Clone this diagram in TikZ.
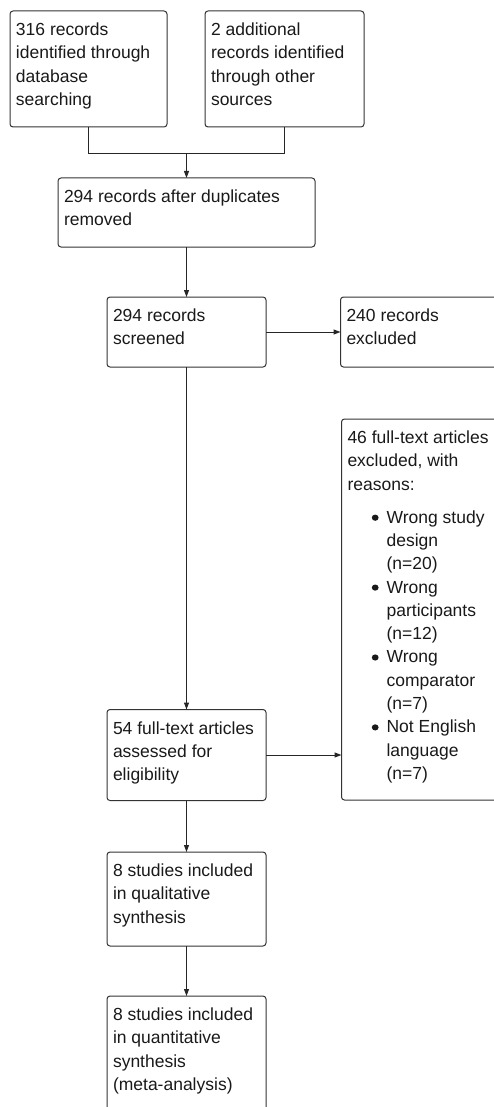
\documentclass[tikz,border=0pt]{standalone}
\usepackage{fontspec}
\setmainfont{Liberation Sans}
\usetikzlibrary{arrows.meta}
\newcommand\boxtext[3]{\parbox[t][#2][t]{#1}{\raggedright\rule{0pt}{24.5pt}#3}}
\newcommand\bul{\hspace*{24.3pt}\tikz[baseline=0pt]\fill[black!90] (3.4pt,5.4pt) ellipse[x radius=3.4pt, y radius=3.1pt];\hspace*{8pt}}
\newcommand\ind{\hspace*{39.1pt}}
\tikzset{
  flowbox/.style={draw=black!80, line width=1pt, rounded corners=3pt, inner xsep=6pt, inner ysep=0pt,
    outer sep=0pt, anchor=north west, font=\fontsize{17.5}{23.3}\selectfont, text=black!90},
  arr/.style={draw=black!85, line width=1pt, -{Triangle[length=7pt,width=5pt]}},
  ln/.style={draw=black!85, line width=1pt}
}
\begin{document}
\begin{tikzpicture}[x=1pt,y=-1pt]
\useasboundingbox (0,0) rectangle (494,1107);
\node[flowbox] (b1) at (10,11) {\boxtext{145pt}{116pt}{316 records\\identified through\\database\\searching}};
\node[flowbox] (b2) at (205,11) {\boxtext{147pt}{116pt}{2 additional\\records identified\\through other\\sources}};
\node[flowbox] (b3) at (58,178) {\boxtext{245pt}{69pt}{294 records after duplicates\\removed}};
\node[flowbox] (b4) at (107,297) {\boxtext{147pt}{70pt}{294 records\\screened}};
\node[flowbox] (b5) at (340.5,297) {\boxtext{158pt}{70pt}{240 records\\excluded}};
\node[flowbox] (b6) at (341.5,419) {\boxtext{160pt}{381pt}{46 full-text articles\\excluded, with\\reasons:\\[9.7pt]
\bul Wrong study\\\ind design\\\ind (n=20)\\
\bul Wrong\\\ind participants\\\ind (n=12)\\
\bul Wrong\\\ind comparator\\\ind (n=7)\\
\bul Not English\\\ind language\\\ind (n=7)}};
\node[flowbox] (b7) at (107,709.5) {\boxtext{147pt}{91pt}{54 full-text articles\\assessed for\\eligibility}};
\node[flowbox] (b8) at (107,852) {\boxtext{147pt}{94pt}{8 studies included\\in qualitative\\synthesis}};
\node[flowbox] (b9) at (107,996) {\boxtext{147pt}{130pt}{8 studies included\\in quantitative\\synthesis\\(meta-analysis)}};
\coordinate (m) at (b3.north |- 0,153.3);
\draw[ln] (b1.south) |- (m) -| (b2.south);
\draw[arr] (m) -- (b3.north);
\draw[arr] (b3.south) -- (b4.north);
\draw[arr] (b4.east) -- (b5.west);
\draw[arr] (b4.south) -- (b7.north);
\draw[arr] (b7.east) -- (b7.east -| b6.west);
\draw[arr] (b7.south) -- (b8.north);
\draw[arr] (b8.south) -- (b9.north);
\end{tikzpicture}
\end{document}
